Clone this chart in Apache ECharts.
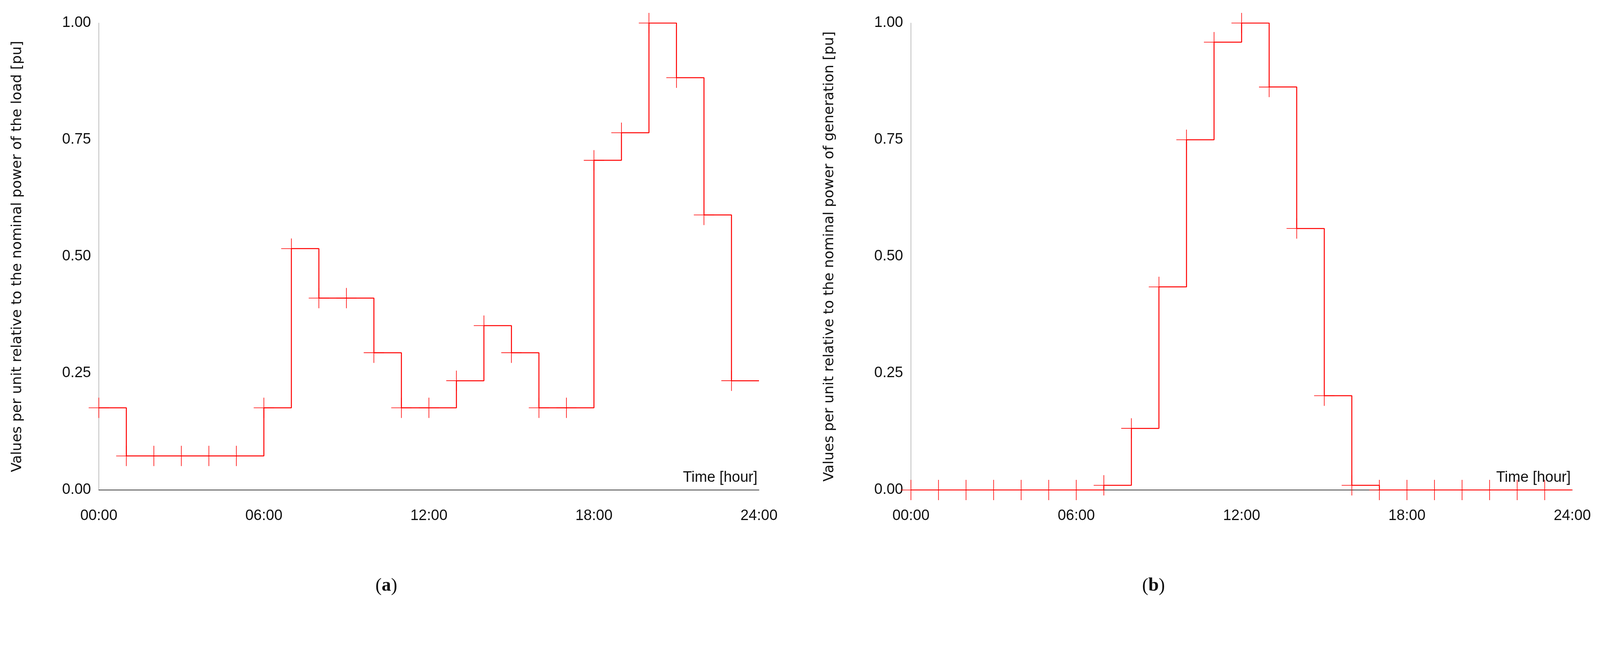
<!DOCTYPE html>
<html><head><meta charset="utf-8">
<script src="https://cdn.jsdelivr.net/npm/echarts@6/dist/echarts.min.js"></script>
<style>html,body{margin:0;padding:0;background:#fff}#c{width:4380px;height:1652px}</style>
</head><body><div id="c"></div>
<script>
const hours = [0,1,2,3,4,5,6,7,8,9,10,11,12,13,14,15,16,17,18,19,20,21,22,23];
const loadValues = [0.176,0.073,0.073,0.073,0.073,0.073,0.176,0.517,0.411,0.411,0.294,0.176,0.176,0.234,0.352,0.294,0.176,0.176,0.706,0.765,1.0,0.883,0.589,0.234];
const genValues = [0,0,0,0,0,0,0,0.01,0.132,0.435,0.75,0.959,1.0,0.863,0.56,0.202,0.01,0,0,0,0,0,0,0];
const yTicks = ['0.00','0.25','0.50','0.75','1.00'];
const yNames = ['Values per unit relative to the nominal power of the load [pu]','Values per unit relative to the nominal power of generation [pu]'];
const captions = ['a','b'];

const chart = echarts.init(document.getElementById('c'));
const plus = 'path://M0,4.85h10v0.3h-10zM4.85,0h0.3v10h-0.3z';
const font = 'Liberation Sans';
const grids = [{left:253,width:1690,top:59,height:1196},{left:2332,width:1693,top:59,height:1196}];
const capCenters = [989, 2953];
function mk(vals){
  const d = hours.map((h,i)=>[h, vals[i]]);
  d.push({value:[24, vals[vals.length-1]], symbol:'none'});
  return d;
}
const xAxis = grids.map((g,i)=>({type:'value',gridIndex:i,min:0,max:24,interval:6,
  axisLine:{lineStyle:{color:'#000',width:1.5}},axisTick:{show:false},splitLine:{show:false},
  axisLabel:{fontFamily:font,fontSize:38,color:'#111',margin:48,formatter:v=>String(v).padStart(2,'0')+':00'}}));
const yAxis = grids.map((g,i)=>({type:'value',gridIndex:i,min:0,max:1,interval:0.25,
  axisLine:{show:true,lineStyle:{color:'#aaa',width:1.5}},axisTick:{show:false},splitLine:{show:false},
  axisLabel:{fontFamily:font,fontSize:38,color:'#111',margin:20,formatter:v=>yTicks[Math.round(v*4)]},
  name:yNames[i],nameLocation:'middle',nameGap:190,nameRotate:90,
  nameTextStyle:{fontFamily:'DejaVu Sans',fontSize:36,color:'#111'}}));
const series = [loadValues,genValues].map((v,i)=>({type:'line',xAxisIndex:i,yAxisIndex:i,step:'end',
  data:mk(v),symbol:plus,symbolSize:52,showAllSymbol:true,
  lineStyle:{color:'#ff0000',width:2.5},itemStyle:{color:'#ff0000'},animation:false}));
const graphic = [];
grids.forEach((g,i)=>{
  graphic.push({type:'text',x:g.left+g.width-4,y:g.top+g.height-50,
    style:{text:'Time [hour]',font:'38px "'+font+'"',fill:'#111',align:'right'}});
  graphic.push({type:'text',x:capCenters[i],y:1501,
    style:{text:'({b|'+captions[i]+'})',align:'center',verticalAlign:'middle',
      rich:{b:{fontWeight:'bold',fontSize:48,fontFamily:'Liberation Serif'}},
      font:'48px "Liberation Serif"',fill:'#111'}});
});
chart.setOption({animation:false,grid:grids,xAxis,yAxis,series,graphic});
</script></body></html>
